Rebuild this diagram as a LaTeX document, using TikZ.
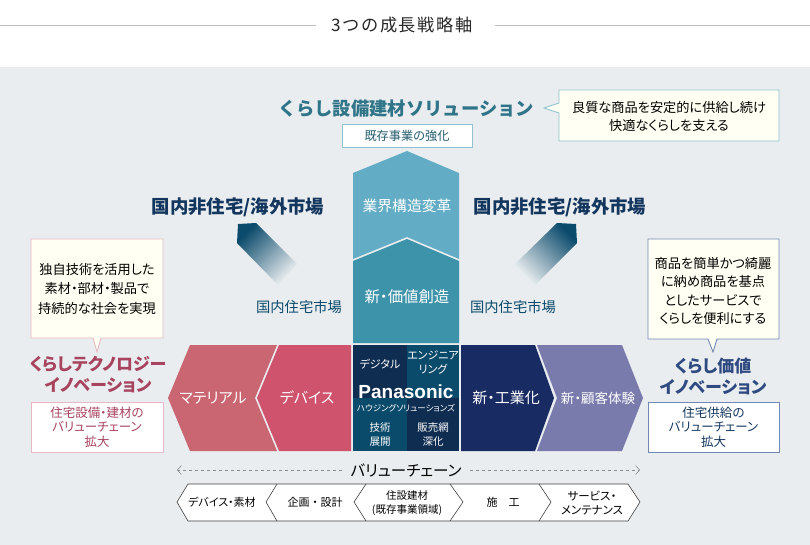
\documentclass[tikz,border=0pt]{standalone}
\usepackage{fontspec}
\setmainfont{Noto Sans CJK JP}[RawFeature=+palt]
\newfontfamily\fulljp{Noto Sans CJK JP}
\setsansfont{Liberation Sans}
\usetikzlibrary{arrows.meta}
\definecolor{bgrey}{HTML}{E9EDEF}
\definecolor{cream}{HTML}{FFFFF3}
\definecolor{tealup}{HTML}{62ADC5}
\definecolor{teallow}{HTML}{3D93A9}
\definecolor{tealhead}{HTML}{2F7488}
\definecolor{tealline}{HTML}{8FC1CF}
\definecolor{rosemat}{HTML}{C96672}
\definecolor{rosedev}{HTML}{CF536C}
\definecolor{rosehead}{HTML}{A8435F}
\definecolor{roseline}{HTML}{E8B9C4}
\definecolor{navynew}{HTML}{192B63}
\definecolor{purplenew}{HTML}{7A7BAD}
\definecolor{bluehead}{HTML}{2F4A80}
\definecolor{blueline}{HTML}{7288B5}
\definecolor{pandark}{HTML}{0F2D50}
\definecolor{panteal}{HTML}{0A4A6B}
\definecolor{market}{HTML}{13365E}
\newcommand{\fs}[2]{\fontsize{#1}{#2}\selectfont}
\tikzset{
  callout/.style={draw, fill=cream, line width=.9pt},
  whitebox/.style={draw, fill=white, line width=.9pt},
  chainline/.style={draw=black!75, line width=.6pt},
  vcline/.style={draw=black!45, dashed, line width=.6pt, -{Straight Barb[length=4pt,width=9pt]}},
}
\begin{document}
\begin{tikzpicture}[x=1pt,y=-1pt]
  \useasboundingbox (0,0) rectangle (810,545);
  \fill[bgrey] (0,67) rectangle (810,545);

  % centre column
  \fill[tealup] (407,151) -- (459,173) -- (459,259) -- (407,237) -- (353,259) -- (353,173) -- cycle;
  \fill[teallow] (407,239) -- (459,261) -- (459,343) -- (353,343) -- (353,261) -- cycle;

  % value chain band
  \fill[rosemat] (168,398) -- (190,345) -- (277,345) -- (255,398) -- (277,451) -- (190,451) -- cycle;
  \fill[rosedev] (257,398) -- (279,345) -- (351,345) -- (351,451) -- (279,451) -- cycle;
  \fill[pandark] (353,345) rectangle (459,451);
  \fill[panteal] (407,345) rectangle (459,398);
  \fill[panteal] (353,398) rectangle (407,451);
  \fill[navynew] (461,345) -- (535,345) -- (554,398) -- (535,451) -- (461,451) -- cycle;
  \fill[purplenew] (537,345) -- (622,345) -- (643,398) -- (622,451) -- (537,451) -- (557,398) -- cycle;

  % market arrows
  \shade[top color=panteal, bottom color=bgrey, shading angle=45]
    (237,243) -- (238,224) -- (256,223) -- (297,264) -- (278,285) -- cycle;
  \shade[top color=panteal, bottom color=bgrey, shading angle=-45]
    (577,243) -- (576,224) -- (557,223) -- (515,264) -- (535,285) -- cycle;

  % callouts
  \path[callout, draw=tealline] (559,90) -- (779,90) -- (779,141) -- (559,141) -- (559,113) -- (544,108) -- (559,103) -- cycle;
  \path[callout, draw=roseline] (31,239) -- (163,239) -- (163,338) -- (101,338) -- (97,352) -- (93,338) -- (31,338) -- cycle;
  \path[callout, draw=blueline] (648,239) -- (779,239) -- (779,339) -- (717,339) -- (713,352) -- (708,339) -- (648,339) -- cycle;

  % title rules
  \draw[black!25, line width=.7pt] (0,25) -- (316,25);
  \draw[black!25, line width=.7pt] (495,25) -- (810,25);

  \node[font=\fulljp\fs{17.2}{18}\addfontfeature{LetterSpace=9.5}, text=black!85] (title) at (402,25) {3つの成長戦略軸};

  \begin{scope}[every node/.style={text=white, inner sep=0pt, align=center}]
    \node[font=\fs{14.8}{18}] (upper) at (407,206) {業界構造変革};
    \node[font=\fs{15.4}{18}] (lower) at (407,297) {新・価値創造};
    \node[font=\fs{15}{18}] (mat) at (213,398) {マテリアル};
    \node[font=\fs{15}{18}] (dev) at (307,398) {デバイス};
    \node[font=\fs{15}{18}] (kogyo) at (506,398) {新・工業化};
    \node[font=\fs{13.5}{18}] (kokyaku) at (598,398) {新・顧客体験};
    \node[font=\fs{11}{14}] (digital) at (380,364) {デジタル};
    \node[font=\fs{11}{14}] (eng) at (433,363) {エンジニア\\リング};
    \node[font=\fs{10.5}{14}] (tech) at (380,435) {技術\\展開};
    \node[font=\fs{10.5}{14}] (sales) at (433,435) {販売網\\深化};
    \node[font=\sffamily\bfseries\fs{19}{20}] (pana) at (406,392) {Panasonic};
    \node[font=\fs{8.5}{9}] (housing) at (406,408) {ハウジングソリューションズ};
  \end{scope}

  \begin{scope}[every node/.style={inner sep=0pt, align=center}]
    \node[text=tealhead, font=\fulljp\bfseries\fs{18.3}{20}] (solhead) at (406,109) {くらし設備建材ソリューション};
    \node[whitebox, draw=tealline, minimum width=130pt, minimum height=23pt, text=tealhead!80!black, font=\fs{12.2}{14}] (solbox) at (407,136) {既存事業の強化};
    \node[font=\fs{13.2}{18}] (solnote) at (669,116) {良質な商品を安定的に供給し続け\\快適なくらしを支える};

    \node[text=market, font=\bfseries\fs{18.4}{20}] (abroadl) at (238,207) {国内非住宅/海外市場};
    \node[text=market, font=\bfseries\fs{18.4}{20}] (abroadr) at (560,207) {国内非住宅/海外市場};
    \node[text=panteal, font=\fs{14.3}{16}] (homel) at (299,307) {国内住宅市場};
    \node[text=panteal, font=\fs{14.3}{16}] (homer) at (513,307) {国内住宅市場};

    \node[font=\fs{13.2}{19.5}] (technote) at (97,289) {独自技術を活用した\\素材・部材・製品で\\持続的な社会を実現};
    \node[text=rosehead, font=\bfseries\fs{17}{21}] (techhead) at (98,375) {くらしテクノロジー\\イノベーション};
    \node[whitebox, draw=roseline, minimum width=132pt, minimum height=50pt, text=rosehead, font=\fs{12.5}{14.5}] (techbox) at (97,427) {住宅設備・建材の\\バリューチェーン\\拡大};

    \node[font=\fs{13.2}{18.5}] (valnote) at (713,291) {商品を簡単かつ綺麗\\に納め商品を基点\\としたサービスで\\くらしを便利にする};
    \node[text=bluehead, font=\bfseries\fs{17}{21}] (valhead) at (713,376) {くらし価値\\イノベーション};
    \node[whitebox, draw=blueline, minimum width=131pt, minimum height=50pt, text=market, font=\fs{12.5}{14.5}] (valbox) at (713.5,427) {住宅供給の\\バリューチェーン\\拡大};
  \end{scope}

  % value chain caption
  \node[inner xsep=8pt, inner ysep=0pt, font=\fs{15.5}{16}] (vc) at (406,470) {バリューチェーン};
  \coordinate (vcleft) at (177,470);
  \coordinate (vcright) at (640,470);
  \draw[vcline] (vc) -- (vcleft);
  \draw[vcline] (vc) -- (vcright);

  % value chain steps
  \path[chainline, fill=white] (177,502) -- (188,484) -- (628,484) -- (640,502) -- (628,521) -- (188,521) -- cycle;
  \draw[chainline] (277,484) -- (266,502) -- (277,521);
  \draw[chainline] (366,484) -- (354,502) -- (366,521);
  \draw[chainline] (450,484) -- (463,502) -- (450,521);
  \draw[chainline] (539,484) -- (551,502) -- (539,521);

  \begin{scope}[every node/.style={inner sep=0pt, align=center}]
    \node[font=\fs{11}{14}] (step1) at (222,502) {デバイス・素材};
    \node[font=\fulljp\fs{11}{14}] (step2) at (315,502) {企画・設計};
    \node[font=\fs{10.5}{14}] (step3) at (407,503) {住設建材\\(既存事業領域)};
    \node[font=\fulljp\fs{11}{14}] (step4) at (503,502) {施　工};
    \node[font=\fs{11.5}{14}] (step5) at (592,503) {サービス・\\メンテナンス};
  \end{scope}
\end{tikzpicture}
\end{document}
